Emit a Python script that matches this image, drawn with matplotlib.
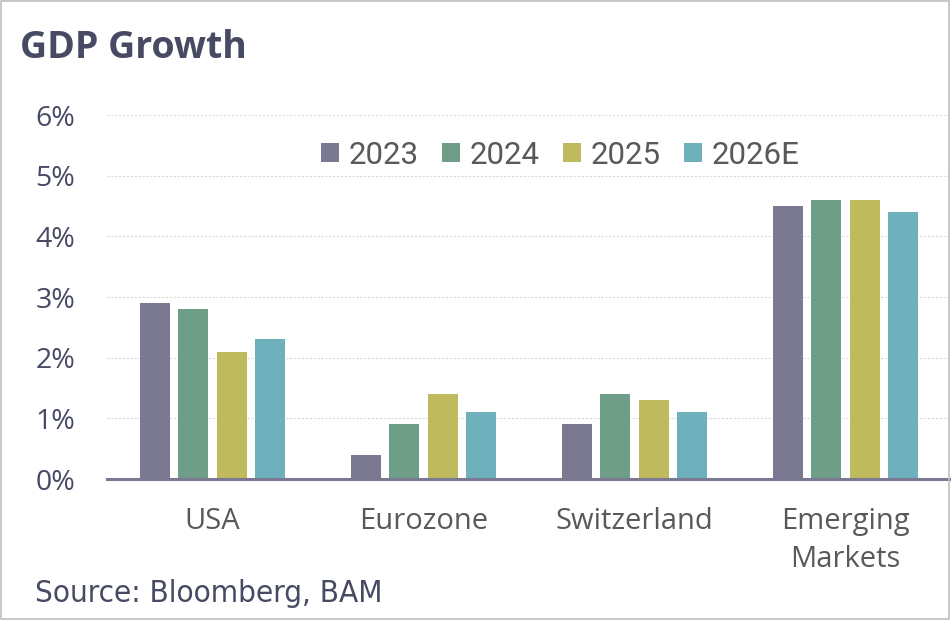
import matplotlib
matplotlib.use("Agg")
import matplotlib.pyplot as plt
import numpy as np
from matplotlib.patches import Rectangle
from matplotlib.ticker import FuncFormatter

regions = ["USA", "Eurozone", "Switzerland", "Emerging\nMarkets"]
years = ["2023", "2024", "2025", "2026E"]
growth_2023 = [2.9, 0.4, 0.9, 4.5]
growth_2024 = [2.8, 0.9, 1.4, 4.6]
growth_2025 = [2.1, 1.4, 1.3, 4.6]
growth_2026 = [2.3, 1.1, 1.1, 4.4]
colors = ["#7b7892", "#6e9e88", "#bfba5e", "#6eb0bc"]

W, H = 951, 620
fig = plt.figure(figsize=(W / 100, H / 100), dpi=100)

# gray frame round the whole picture
fig.patches.append(Rectangle((0.001, 0.002), 0.997, 0.996, transform=fig.transFigure,
                             fill=False, edgecolor="#bfbfbf", linewidth=1.2))

ax = fig.add_axes([107 / W, (H - 479) / H, 844 / W, 364 / H])

x = np.arange(len(regions))
width = 0.142
step = 0.1815
series = [growth_2023, growth_2024, growth_2025, growth_2026]
for i, (vals, lab, c) in enumerate(zip(series, years, colors)):
    ax.bar(x + (i - 1.5) * step, vals, width, color=c, label=lab, zorder=3)

ax.set_xlim(-0.5, 3.5)
ax.set_ylim(0, 6)
ax.set_yticks(range(0, 7))
ax.yaxis.set_major_formatter(FuncFormatter(lambda v, p: f"{v:.0f}%"))
ax.set_xticks(x)
ax.set_xticklabels(regions, linespacing=1.42)

for s in ["top", "right", "left"]:
    ax.spines[s].set_visible(False)
ax.spines["bottom"].set_color("#7b7892")
ax.spines["bottom"].set_linewidth(2.2)
ax.spines["bottom"].set_zorder(4)

ax.grid(axis="y", color="#d9d9d9", linestyle=(0, (2, 1.5)), linewidth=0.8, zorder=0)
ax.tick_params(axis="both", length=0)
ax.tick_params(axis="y", pad=23, labelsize=20.5, labelcolor="#474a63")
ax.tick_params(axis="x", pad=20, labelsize=21, labelcolor="#595959")
for t in ax.get_yticklabels() + ax.get_xticklabels():
    t.set_family("Open Sans")

leg = ax.legend(loc="center left", bbox_to_anchor=(321 / W, (H - 155) / H),
                bbox_transform=fig.transFigure, ncol=4, frameon=False,
                prop={"family": "Roboto", "size": 22.5}, labelcolor="#595959",
                handlelength=0.58, handleheight=0.58, handletextpad=0.3,
                columnspacing=0.75, borderpad=0, borderaxespad=0)

fig.text(20 / W, (H - 48) / H, "GDP Growth", fontsize=27, fontweight="bold",
         color="#474a63", family="Open Sans", va="center", ha="left")
fig.text(35 / W, (H - 594) / H, "Source: Bloomberg, BAM", fontsize=22.5,
         color="#474a63", family="DejaVu Sans", fontstretch="condensed",
         va="center", ha="left")

fig.savefig("out.png", dpi=100)
